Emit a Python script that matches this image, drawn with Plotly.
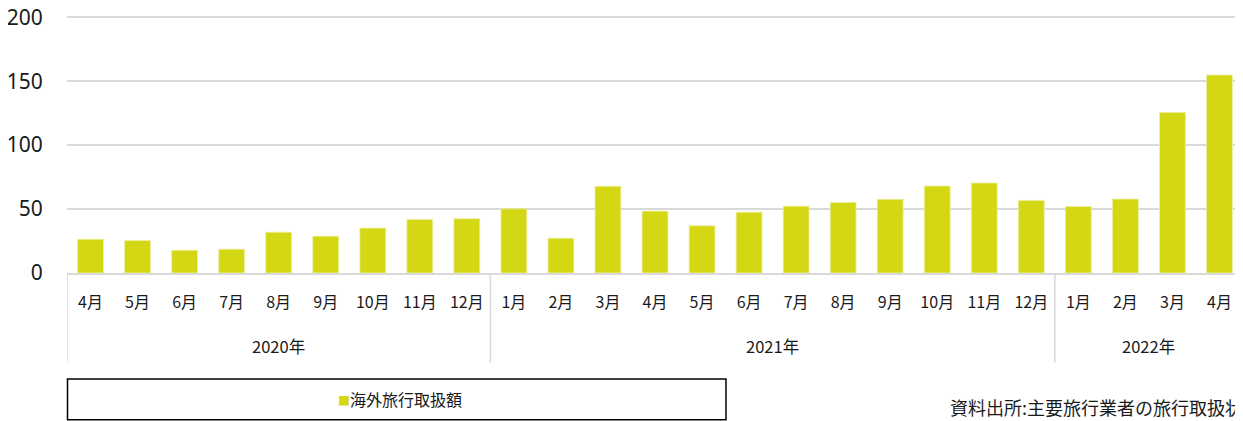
import plotly.graph_objects as go

years = ["2020年", "2021年", "2022年"]
year_counts = [9, 12, 4]
months = ["4月", "5月", "6月", "7月", "8月", "9月", "10月", "11月", "12月",
          "1月", "2月", "3月", "4月", "5月", "6月", "7月", "8月", "9月", "10月", "11月", "12月",
          "1月", "2月", "3月", "4月"]
values = [26.4, 25.4, 17.8, 18.6, 31.9, 28.8, 35.1, 41.9, 42.4,
          50.2, 27.2, 67.8, 48.4, 36.9, 47.6, 52.3, 55.2, 57.6, 68.0, 70.4, 56.8,
          52.1, 57.8, 125.5, 154.8]
series_name = "海外旅行取扱額"
source_text = "資料出所:主要旅行業者の旅行取扱状況"

BAR = "#d4d713"
GRID = "#d9d9d9"
FONT = "Noto Sans CJK JP"
TXT = "#1a1a1a"

# the page body has an 8px default margin; work in window pixels and offset
OFF = 8
WIN_W, WIN_H = 1243, 421
W, Hfig = WIN_W - OFF, WIN_H - OFF
L, R = 67 - OFF, 0
T, B = 16.4 - OFF, 272.7 - OFF
PH = B - T
PW = W - L - R


def py(p):
    return (B - (p - OFF)) / PH


def px(p):
    return ((p - OFF) - L) / PW


idx = list(range(len(months)))

fig = go.Figure()
fig.add_trace(go.Bar(x=idx, y=values, name=series_name,
                     marker=dict(color=BAR, line=dict(color="#eef0a0", width=0.8)),
                     width=0.55, showlegend=False))

shapes = []
annotations = []
start = 0
bounds = [-0.5]
for yname, cnt in zip(years, year_counts):
    center = start + (cnt - 1) / 2
    annotations.append(dict(xref="x", yref="paper", x=center, y=py(345.5), text=yname,
                            showarrow=False, font=dict(size=16.5, family=FONT, color=TXT),
                            xanchor="center", yanchor="middle"))
    start += cnt
    bounds.append(start - 0.5)
for bx in bounds[:-1]:
    shapes.append(dict(type="line", xref="x", yref="paper", x0=bx, x1=bx, y0=0, y1=py(362),
                       line=dict(color=GRID, width=1.5)))

shapes.append(dict(type="rect", xref="paper", yref="paper",
                   x0=px(67.5), x1=px(726), y0=py(378.5), y1=py(419),
                   line=dict(color="black", width=1.5), fillcolor="rgba(0,0,0,0)"))
annotations.append(dict(xref="paper", yref="paper", x=px(400), y=py(398.5),
                        text=f"<span style='color:{BAR};font-size:12px'>■</span>{series_name}",
                        showarrow=False,
                        font=dict(size=16, family=FONT, color=TXT), xanchor="center", yanchor="middle"))
annotations.append(dict(xref="paper", yref="paper", x=px(948), y=py(406),
                        text=source_text, showarrow=False,
                        font=dict(size=18, family=FONT, color=TXT), xanchor="left", yanchor="middle"))

fig.update_layout(
    width=W, height=Hfig,
    margin=dict(l=L, r=R, t=T, b=Hfig - B, autoexpand=False),
    paper_bgcolor="white", plot_bgcolor="white",
    font=dict(family=FONT, color=TXT),
    xaxis=dict(range=[-0.5, len(months) - 0.5], tickmode="array", tickvals=idx, ticktext=months,
               showgrid=False, zeroline=False, showline=True, linecolor=GRID, linewidth=1.5,
               tickfont=dict(size=16, family=FONT, color=TXT), ticks="outside", ticklen=14,
               tickcolor="rgba(0,0,0,0)", automargin=False, fixedrange=True),
    yaxis=dict(range=[0, 201], tickmode="array", tickvals=[0, 50, 100, 150, 200],
               showgrid=True, gridcolor=GRID, gridwidth=1.5,
               zeroline=False, showline=False, ticklabeloverflow="allow",
               tickfont=dict(size=21, family="Noto Sans", color=TXT), ticks="outside", ticklen=19,
               tickcolor="rgba(0,0,0,0)", automargin=False),
    shapes=shapes,
    annotations=annotations,
)

fig.write_html("out.html")
